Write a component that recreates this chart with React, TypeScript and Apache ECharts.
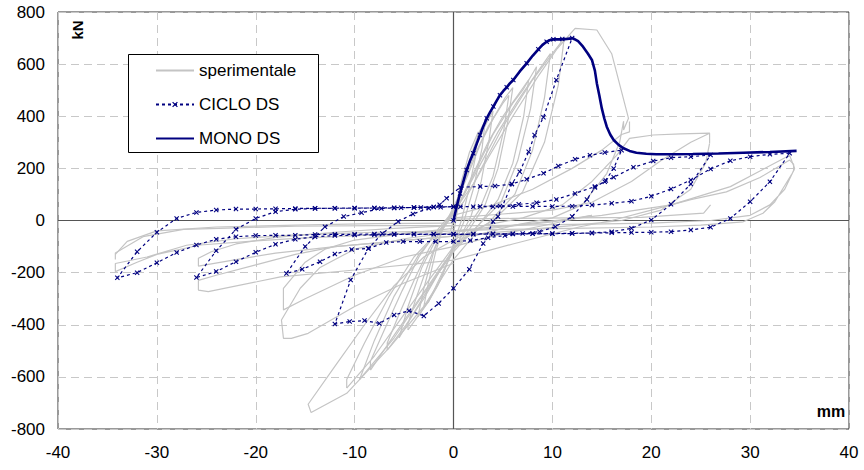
import React, { useEffect, useRef } from 'react';
import * as echarts from 'echarts';

type Pt = [number, number];

// Axis ranges and tick spacing
const X_MIN = -40, X_MAX = 40, X_STEP = 10;
const Y_MIN = -800, Y_MAX = 800, Y_STEP = 200;

// Monotonic numerical curve (mm, kN)
const monoDS: Pt[] = [
  [0, 0], [0.33, 55], [0.66, 104], [1.0, 150], [1.33, 194], [1.66, 228], [2.0, 258], [2.34, 294],
  [2.68, 328], [3.02, 362], [3.36, 392], [3.7, 416], [4.03, 437], [4.37, 460], [4.7, 481], [5.04, 497],
  [5.38, 511], [5.7, 526], [6.05, 539], [6.7, 572], [7.4, 603], [8.0, 632], [8.58, 657], [9.0, 674],
  [9.42, 686], [9.8, 693], [10.1, 695], [10.8, 695], [11.5, 697], [12.1, 699], [12.6, 688], [13.1, 667],
  [13.6, 640], [14.0, 616], [14.3, 575], [14.5, 526], [14.75, 480], [15.0, 430], [15.25, 392], [15.5, 360],
  [15.85, 330], [16.2, 309], [16.7, 290], [17.2, 277], [17.8, 267], [18.5, 260], [19.5, 256], [20.5, 254],
  [22.4, 254], [24.2, 255], [26.8, 257], [29.3, 260], [32, 263], [34.7, 267],
];

// Cyclic numerical curve, branch by branch
const cicloEnvelope: Pt[] = [
  [0, 0], [0.66, 104], [1.33, 194], [2, 258], [2.68, 328], [3.36, 392], [4.03, 437], [4.7, 481],
  [5.38, 511], [6.05, 539], [7.4, 603], [8.58, 657], [9.42, 686], [10.1, 695], [11, 696], [12, 700],
];
const cicloTo12Neg: Pt[] = [
  [10.4, 539], [9.1, 396], [8.2, 328], [7.6, 264], [6.7, 187], [5.9, 140], [4.2, 132], [2.7, 130],
  [0.7, 128], [-0.7, 85], [-1.4, 60], [-2.5, 47], [-4.1, 25], [-5.6, -4], [-7.2, -50], [-8.6, -107],
  [-10.4, -228], [-12, -397],
];
const cicloTo17: Pt[] = [
  [-10.5, -388], [-9, -384], [-7.5, -395], [-6, -363], [-4.5, -346], [-3, -366], [-1.5, -318], [0, -260],
  [1.6, -187], [3, -88], [4, -4], [4.5, 15], [5.9, 140], [7.4, 158], [9.1, 181], [10.6, 209], [12.3, 235],
  [13.8, 250], [15.3, 261], [17, 270],
];
const cicloTo17Neg: Pt[] = [
  [16.2, 200], [15.3, 149], [14.3, 130], [12.3, 104], [10.4, 81], [8.4, 68], [6.6, 62], [4.7, 56],
  [2.7, 54], [0.7, 53], [-1.3, 51], [-3.3, 50], [-5.3, 49], [-7.3, 46], [-9.3, 30], [-11.1, 15],
  [-13, -24], [-15, -100], [-16.9, -203],
];
const cicloTo26: Pt[] = [
  [-15.3, -187], [-13.5, -158], [-12, -129], [-10.3, -111], [-8.6, -107], [-6.8, -84], [-5.1, -81],
  [-3.4, -81], [-1.8, -81], [0, -81], [1.7, -77], [3.5, -66], [5.2, -58], [7, -50], [8.7, -43],
  [10.3, -24], [12, 15], [13.5, 81], [14.3, 127], [15.4, 153], [16.2, 166], [18.2, 204], [20.2, 228],
  [22, 241], [24, 245], [26, 251],
];
const cicloTo26Neg: Pt[] = [
  [24, 140], [22, 62], [20, 2], [18, -30], [16, -43], [14, -48], [12, -50], [10, -51], [8, -51],
  [6, -52], [4, -52], [2, -53], [0, -53], [-2, -53], [-4, -53], [-6, -54], [-8, -55], [-10, -56],
  [-12, -58], [-14, -62], [-16, -72], [-18, -91], [-20, -122], [-22, -158], [-24, -196], [-26, -219],
];
const cicloTo34: Pt[] = [
  [-24, -116], [-22, -34], [-20, 8], [-18, 34], [-16, 43], [-14, 46], [-12, 47], [-10, 47], [-8, 48],
  [-6, 48], [-4, 50], [-2, 52], [0, 53], [2, 53], [4, 53], [6, 54], [8, 54], [10, 54], [12, 55],
  [14, 59], [16, 66], [18, 74], [20, 93], [22, 121], [24, 155], [26, 198], [28, 229], [30, 245],
  [32, 254], [34, 258],
];
const cicloTo34Neg: Pt[] = [
  [32, 149], [30, 72], [28, 8], [26, -26], [24, -36], [22, -43], [20, -45], [18, -46], [16, -47],
  [14, -48], [12, -49], [10, -50], [8, -50], [6, -51], [4, -51], [2, -52], [0, -52], [-2, -52],
  [-4, -52], [-6, -52], [-8, -52], [-10, -53], [-12, -53], [-14, -54], [-16, -57], [-18, -57],
  [-20, -58], [-22, -62], [-24, -72], [-26, -94], [-28, -123], [-30, -162], [-32, -200], [-34, -220],
];
const cicloReload: Pt[] = [
  [-32, -120], [-30, -45], [-28, 8], [-26, 31], [-24, 40], [-22, 44], [-20, 44], [-18, 45], [-16, 46],
  [-14, 47], [-12, 47], [-10, 48], [-8, 48], [-6, 49], [-4, 50], [-2, 52], [0, 53],
];

// Test record, cycle by cycle
const expA: Pt[] = [[-0.3, -40], [0, 0], [0.8, 150], [1.6, 260], [2.5, 340], [2.2, 240], [1.5, 110], [0.8, 0], [0, -90], [-0.8, -180], [-1.6, -250], [-2.5, -310], [-3, -330]];
const expB: Pt[] = [[-3, -330], [-2.6, -250], [-1.8, -120], [-1, -20], [0, 40], [1, 150], [2, 260], [3, 350], [4, 420], [3.6, 310], [2.8, 150], [1.8, 20], [0.5, -80], [-1, -190], [-2.5, -310], [-4.1, -394], [-4.6, -420]];
const expC: Pt[] = [[-4.6, -420], [-4.6, -395], [-3.8, -300], [-2.5, -160], [-1.2, -40], [0, 40], [1.4, 170], [2.8, 300], [4, 390], [5.2, 470], [6, 510], [5.5, 380], [4.5, 200], [3.2, 60], [1.5, -40], [0, -110], [-1.5, -200], [-3, -300], [-4.8, -400], [-6.7, -497]];
const expD: Pt[] = [[-6.7, -497], [-6.7, -470], [-5.5, -360], [-4, -230], [-2.5, -110], [-1, -20], [0.5, 60], [2, 180], [3.5, 300], [5, 400], [6.5, 480], [7.6, 540], [7.1, 400], [6, 220], [4.5, 80], [2.5, -20], [0, -110], [-2, -220], [-4, -330], [-6, -440], [-8.4, -574]];
const expE: Pt[] = [[-8.4, -574], [-8.4, -540], [-7, -420], [-5.2, -270], [-3.5, -140], [-1.5, -30], [0.5, 60], [2.5, 200], [4.5, 340], [6.5, 460], [8.5, 570], [9.8, 640], [9.2, 470], [8, 270], [6.2, 100], [3.5, -10], [0, -100], [-2.5, -230], [-5, -360], [-8, -520], [-10.8, -643]];
const expF: Pt[] = [[-10.8, -643], [-10.8, -610], [-9, -470], [-6.5, -290], [-4, -140], [-1.5, -40], [1, 70], [3.5, 240], [6, 400], [8.5, 550], [10.5, 660], [12.3, 737], [14.5, 731], [16, 640], [17.7, 392], [17.2, 347], [17.2, 380]];
const expG: Pt[] = [[17.2, 380], [16.8, 300], [15.5, 180], [13, 60], [10, 10], [6, -20], [2, -60], [0, -150], [-3, -330], [-6.4, -484], [-10.8, -663], [-14.4, -737], [-14.7, -705], [-12, -560], [-9, -400], [-6, -250], [-3, -140], [0, -75], [3, -20], [7, 10], [11, 60], [14, 150], [16.5, 250], [17.8, 315], [20.2, 328], [23, 332], [25.9, 335], [25.9, 296]];
const expH: Pt[] = [[25.9, 296], [25.5, 220], [24, 120], [21, 40], [17, 0], [12, -20], [6, -40], [0, -60], [-6, -80], [-12, -100], [-16, -130], [-20, -170], [-24, -210], [-25.8, -230], [-25.8, -267], [-24.8, -273], [-19.9, -235], [-17.5, -216], [-10, -190], [0, -152], [6, -90], [12.8, -24], [16, 0], [20, 40], [24, 80], [27.6, 110], [31, 165], [34, 232], [34.4, 215], [34.4, 190]];
const expI: Pt[] = [[34.4, 190], [32.5, 72], [31.3, 28], [29.3, -5], [25, -18], [20, -25], [12, -30], [4, -35], [0, -40], [-8, -45], [-16, -55], [-22, -70], [-27, -95], [-31, -140], [-34.2, -165], [-34.2, -196], [-32, -160], [-30, -130], [-25.6, -94], [-20, -78], [-15.5, -68], [-8, -55], [0, -40], [8, -10], [15, 20], [22, 60], [28, 130], [34, 250], [34.5, 200], [33.5, 120], [32, 60], [30, 20], [26, 0], [20, -10], [12, -15], [4, -20], [0, -20], [-8, -20], [-16, -22], [-22, -28], [-27.3, -34], [-31.4, -62], [-34.2, -125], [-34.2, -150]];
const expJ: Pt[] = [[0, -30], [-5, -50], [-10, -75], [-13, -110], [-15, -160], [-17.2, -260], [-17.2, -343], [-15, -300], [-10, -210], [-5, -140], [0, -100], [4, -60], [9, -20], [14, 20]];
const expK: Pt[] = [[14, 20], [10, -5], [5, -25], [0, -45], [-5, -70], [-10, -110], [-13.5, -180], [-15.5, -260], [-17.4, -382], [-17.2, -452], [-16.4, -452], [-14.7, -433], [-10, -330], [-5, -240], [0, -164]];
const expL: Pt[] = [[0, -20], [-6, -30], [-12, -45], [-18, -65], [-22, -90], [-24.5, -120], [-25.8, -145], [-25.8, -175], [-22, -150], [-18, -125], [-12, -100], [-6, -80], [0, -60]];
const expM: Pt[] = [[0, 10], [5, 25], [10, 40], [14, 70], [18, 150], [21, 230], [24, 300], [25.9, 335]];
const expN: Pt[] = [[0, 20], [4, 60], [8, 120], [12, 200], [15, 270], [17, 330], [17.8, 340], [17.8, 380]];
const expO: Pt[] = [[0, 5], [6, 8], [12, 10], [19, 12], [25.3, 28], [26, 60]];
const expP: Pt[] = [[0, -10], [-8, -12], [-16, -18], [-24, -25], [-30, -40], [-33, -80], [-34.2, -130]];
// repeated cycles at the smaller amplitudes
const expQ: Pt[] = [[0, -50], [0.6, 80], [1.5, 220], [2.6, 340], [3.2, 380], [2.9, 280], [2, 120], [1, -10], [0, -100], [-1.2, -220], [-2.4, -300], [-3.6, -370]];
const expR: Pt[] = [[-3.6, -370], [-3, -260], [-2, -120], [-0.8, -10], [0.5, 90], [2, 240], [3.5, 360], [5, 450], [5.6, 480], [5.1, 350], [4, 170], [2.6, 40], [1, -50], [-1, -170], [-3, -290], [-5.5, -450]];
const expS: Pt[] = [[-5.5, -450], [-4.6, -330], [-3.2, -180], [-1.6, -60], [0.3, 40], [2.2, 190], [4, 330], [6, 450], [7, 500], [8.4, 590], [7.8, 430], [6.5, 230], [4.8, 70], [2.2, -30], [0, -120], [-3, -280], [-6, -450], [-9.5, -610]];
const expT: Pt[] = [[-9.5, -610], [-8, -460], [-6, -290], [-3.5, -130], [-1, -20], [2, 140], [5, 360], [8, 540], [10, 640], [11.2, 700], [10.6, 520], [9.2, 300], [7, 110], [4, 0], [0, -90]];

const expCycles: Pt[][] = [expA, expB, expC, expD, expE, expF, expG, expH, expI, expJ, expK, expL, expM, expN, expO, expP, expQ, expR, expS, expT];
const cicloPath: Pt[] = [
  ...cicloEnvelope, ...cicloTo12Neg, ...cicloTo17, ...cicloTo17Neg, ...cicloTo26,
  ...cicloTo26Neg, ...cicloTo34, ...cicloTo34Neg, ...cicloReload,
];

const FONT = '"Liberation Sans", Arial, Helvetica, sans-serif';
const NAVY = '#000080';
const GREY = '#c4c4c4';
const CROSS = 'path://M0,1.5L1.5,0L5,3.5L8.5,0L10,1.5L6.5,5L10,8.5L8.5,10L5,6.5L1.5,10L0,8.5L3.5,5Z';

export default function App() {
  const ref = useRef<HTMLDivElement>(null);

  useEffect(() => {
    if (!ref.current) return;
    const chart = echarts.init(ref.current, null, { renderer: 'svg' });

    const expSeries = expCycles.map((d, i) => ({
      name: 'sperimentale',
      type: 'line',
      data: d,
      symbol: 'none',
      showSymbol: false,
      silent: true,
      z: 2,
      lineStyle: { color: GREY, width: 1.2 },
      itemStyle: { color: GREY },
      ...(i === 0
        ? {
            markLine: {
              silent: true,
              symbol: ['none', 'none'],
              label: { show: false },
              lineStyle: { color: '#555', type: 'solid', width: 1.2 },
              data: [{ xAxis: 0 }, { yAxis: 0 }],
              z: 1,
            },
          }
        : {}),
    }));

    chart.setOption({
      animation: false,
      textStyle: { fontFamily: FONT },
      grid: {
        left: 58, right: 15, top: 12, bottom: 41,
        show: true, borderColor: '#333', borderWidth: 1, backgroundColor: '#fff',
      },
      xAxis: {
        type: 'value', min: X_MIN, max: X_MAX, interval: X_STEP,
        axisLine: { show: false }, axisTick: { show: false },
        axisLabel: { color: '#000', fontSize: 17, margin: 15, fontFamily: FONT },
        splitLine: { show: true, lineStyle: { color: '#c8c8c8', type: [8, 5], width: 1 } },
      },
      yAxis: {
        type: 'value', min: Y_MIN, max: Y_MAX, interval: Y_STEP,
        axisLine: { show: false }, axisTick: { show: false },
        axisLabel: { color: '#000', fontSize: 17, margin: 13, fontFamily: FONT },
        splitLine: { show: true, lineStyle: { color: '#c8c8c8', type: [8, 5], width: 1 } },
      },
      legend: {
        data: [
          { name: 'sperimentale', itemStyle: { opacity: 0 } },
          { name: 'CICLO DS' },
          { name: 'MONO DS', itemStyle: { opacity: 0 } },
        ],
        orient: 'vertical',
        left: 128, top: 54,
        padding: [8, 20, 8, 27],
        itemGap: 17,
        itemWidth: 38,
        itemHeight: 7,
        backgroundColor: 'transparent',
        borderWidth: 0,
        textStyle: { color: '#000', fontSize: 17, fontFamily: FONT },
      },
      graphic: [
        {
          // legend frame
          type: 'rect', left: 128, top: 54, z: 1, silent: true,
          shape: { width: 190, height: 98 },
          style: { fill: '#fff', stroke: '#000', lineWidth: 1 },
        },
        {
          type: 'text', x: 77, y: 30, rotation: Math.PI / 2, z: 20,
          style: { text: 'kN', font: `bold 15px ${FONT}`, fill: '#000', align: 'center', verticalAlign: 'middle' },
        },
        {
          type: 'text', x: 831, y: 411, z: 20,
          style: { text: 'mm', font: `bold 16px ${FONT}`, fill: '#000', align: 'center', verticalAlign: 'middle' },
        },
      ],
      series: [
        ...expSeries,
        {
          name: 'CICLO DS',
          type: 'line',
          data: cicloPath,
          symbol: CROSS,
          symbolSize: 5,
          showSymbol: true,
          showAllSymbol: true,
          z: 3,
          lineStyle: { color: NAVY, width: 1.2, type: [3, 3] },
          itemStyle: { color: NAVY },
        },
        {
          name: 'MONO DS',
          type: 'line',
          data: monoDS,
          symbol: 'none',
          showSymbol: false,
          z: 4,
          lineStyle: { color: NAVY, width: 2.6 },
          itemStyle: { color: NAVY },
        },
      ],
    });

    return () => chart.dispose();
  }, []);

  return (
    <div
      ref={ref}
      style={{ position: 'fixed', left: 0, top: 0, width: 864, height: 470, background: '#fff' }}
    />
  );
}
